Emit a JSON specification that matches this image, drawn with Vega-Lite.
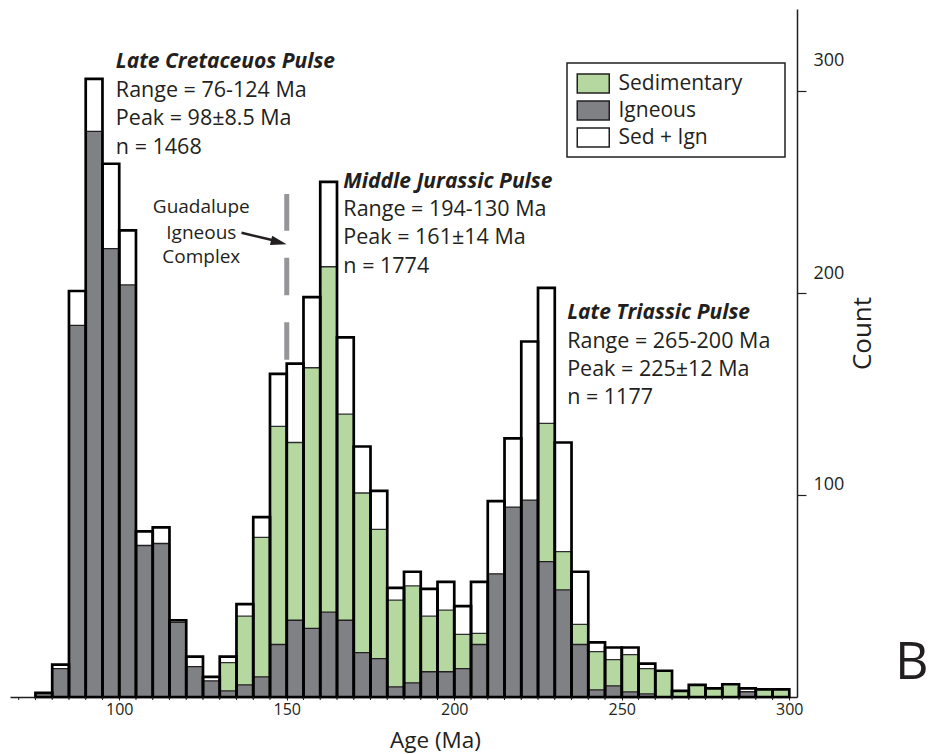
{
  "$schema": "https://vega.github.io/schema/vega-lite/v6.json",
  "width": 787,
  "height": 688,
  "autosize": {"type": "none"},
  "padding": {"left": 10, "top": 9, "right": 132, "bottom": 57},
  "background": "white",
  "config": {"view": {"stroke": null}, "font": "Open Sans", "axis": {"labelFont": "Open Sans", "titleFont": "Open Sans"}, "legend": {"labelFont": "Open Sans"}},
  "datasets": {
    "bins": [
      {"s": 75, "e": 80, "total": 2, "sed": 0, "ign": 2},
      {"s": 80, "e": 85, "total": 16, "sed": 2, "ign": 14},
      {"s": 85, "e": 90, "total": 201, "sed": 17, "ign": 184},
      {"s": 90, "e": 95, "total": 306, "sed": 26, "ign": 280},
      {"s": 95, "e": 100, "total": 264, "sed": 42, "ign": 222},
      {"s": 100, "e": 105, "total": 231, "sed": 27, "ign": 204},
      {"s": 105, "e": 110, "total": 82, "sed": 7, "ign": 75},
      {"s": 110, "e": 115, "total": 84, "sed": 8, "ign": 76},
      {"s": 115, "e": 120, "total": 38, "sed": 1, "ign": 37},
      {"s": 120, "e": 125, "total": 20, "sed": 5, "ign": 15},
      {"s": 125, "e": 130, "total": 10, "sed": 2, "ign": 8},
      {"s": 130, "e": 135, "total": 20, "sed": 17, "ign": 3},
      {"s": 135, "e": 140, "total": 46, "sed": 40, "ign": 6},
      {"s": 140, "e": 145, "total": 89, "sed": 79, "ign": 10},
      {"s": 145, "e": 150, "total": 160, "sed": 134, "ign": 26},
      {"s": 150, "e": 155, "total": 165, "sed": 126, "ign": 38},
      {"s": 155, "e": 160, "total": 198, "sed": 163, "ign": 34},
      {"s": 160, "e": 165, "total": 255, "sed": 213, "ign": 42},
      {"s": 165, "e": 170, "total": 178, "sed": 140, "ign": 38},
      {"s": 170, "e": 175, "total": 124, "sed": 101, "ign": 22},
      {"s": 175, "e": 180, "total": 102, "sed": 83, "ign": 19},
      {"s": 180, "e": 185, "total": 54, "sed": 48, "ign": 5},
      {"s": 185, "e": 190, "total": 62, "sed": 55, "ign": 7},
      {"s": 190, "e": 195, "total": 53.5, "sed": 40, "ign": 12.5},
      {"s": 195, "e": 200, "total": 57, "sed": 43, "ign": 12.5},
      {"s": 200, "e": 205, "total": 45, "sed": 31, "ign": 14},
      {"s": 205, "e": 210, "total": 57, "sed": 31.5, "ign": 26},
      {"s": 210, "e": 215, "total": 97, "sed": 36, "ign": 61},
      {"s": 215, "e": 220, "total": 128, "sed": 34, "ign": 94},
      {"s": 220, "e": 225, "total": 176, "sed": 79, "ign": 97.5},
      {"s": 225, "e": 230, "total": 202.5, "sed": 135.5, "ign": 67},
      {"s": 230, "e": 235, "total": 126, "sed": 72, "ign": 53},
      {"s": 235, "e": 240, "total": 62, "sed": 36, "ign": 26},
      {"s": 240, "e": 245, "total": 27, "sed": 22.5, "ign": 3.5},
      {"s": 245, "e": 250, "total": 24.5, "sed": 18.5, "ign": 5.5},
      {"s": 250, "e": 255, "total": 24.5, "sed": 21, "ign": 2.5},
      {"s": 255, "e": 260, "total": 16.5, "sed": 14, "ign": 1.5},
      {"s": 260, "e": 265, "total": 13, "sed": 13, "ign": 0},
      {"s": 265, "e": 270, "total": 3, "sed": 3, "ign": 0},
      {"s": 270, "e": 275, "total": 6, "sed": 6, "ign": 0},
      {"s": 275, "e": 280, "total": 4.3, "sed": 4.3, "ign": 0},
      {"s": 280, "e": 285, "total": 6.3, "sed": 6.3, "ign": 0},
      {"s": 285, "e": 290, "total": 4.3, "sed": 1.7, "ign": 2.6},
      {"s": 290, "e": 295, "total": 3.8, "sed": 3.8, "ign": 0},
      {"s": 295, "e": 300, "total": 3.8, "sed": 3.8, "ign": 0}
    ],
    "minorticks": [
      {"x": 70}, {"x": 75}, {"x": 80}, {"x": 85}, {"x": 90}, {"x": 95},
      {"x": 105}, {"x": 110}, {"x": 115}, {"x": 120}, {"x": 125}, {"x": 130}, {"x": 135}, {"x": 140}, {"x": 145},
      {"x": 155}, {"x": 160}, {"x": 165}, {"x": 170}, {"x": 175}, {"x": 180}, {"x": 185}, {"x": 190}, {"x": 195},
      {"x": 205}, {"x": 210}, {"x": 215}, {"x": 220}, {"x": 225}, {"x": 230}, {"x": 235}, {"x": 240}, {"x": 245},
      {"x": 255}, {"x": 260}, {"x": 265}, {"x": 270}, {"x": 275}, {"x": 280}, {"x": 285}, {"x": 290}, {"x": 295}
    ],
    "titles": [
      {"x": 99.0, "y": 314.4, "t": "Late Cretaceuos Pulse"},
      {"x": 166.9, "y": 255.1, "t": "Middle Jurassic Pulse"},
      {"x": 233.7, "y": 190.0, "t": "Late Triassic Pulse"}
    ],
    "body": [
      {"x": 99.0, "y": 300.1, "t": "Range = 76-124 Ma"},
      {"x": 99.0, "y": 286.0, "t": "Peak = 98±8.5 Ma"},
      {"x": 99.0, "y": 271.6, "t": "n = 1468"},
      {"x": 166.9, "y": 241.1, "t": "Range = 194-130 Ma"},
      {"x": 166.9, "y": 227.1, "t": "Peak = 161±14 Ma"},
      {"x": 166.9, "y": 213.0, "t": "n = 1774"},
      {"x": 233.7, "y": 175.9, "t": "Range = 265-200 Ma"},
      {"x": 233.7, "y": 161.9, "t": "Peak = 225±12 Ma"},
      {"x": 233.7, "y": 147.9, "t": "n = 1177"}
    ],
    "guad": [
      {"x": 124.5, "y": 242.7, "t": "Guadalupe"},
      {"x": 124.5, "y": 229.5, "t": "Igneous"},
      {"x": 124.5, "y": 217.9, "t": "Complex"}
    ],
    "dash": [{"x": 150, "y": 167, "y2": 249}],
    "arrow": [{"x": 136.5, "y": 229.8, "x2": 145.6, "y2": 226.2}],
    "head": [{"x": 147.64, "y": 225.1}],
    "panel": [{"x": 336.6, "y": 16.8, "t": "B"}]
  },
  "layer": [
    {
      "data": {"name": "bins"},
      "mark": {"type": "bar", "strokeWidth": 0},
      "encoding": {
        "x": {"field": "s", "type": "quantitative", "scale": {"domain": [67.4, 302.3], "nice": false, "zero": false},
          "axis": {"values": [100, 150, 200, 250, 300], "title": "Age (Ma)", "grid": false, "tickSize": 3, "labelPadding": 1,
            "labelFontSize": 16, "labelFlush": false, "labelOverlap": false, "titleFontSize": 22.5, "titleFontWeight": "normal",
            "titleX": 425, "titleY": 50, "titleBaseline": "alphabetic", "titleAnchor": "middle", "titleAlign": "center",
            "domainColor": "#231f20", "domainWidth": 1.5, "tickColor": "#231f20", "tickWidth": 1, "labelColor": "#231f20", "titleColor": "#231f20"}},
        "x2": {"field": "e"},
        "y": {"field": "total", "type": "quantitative", "scale": {"domain": [0, 340.6], "nice": false},
          "axis": {"orient": "right", "values": [100, 200, 300], "title": "Count", "grid": false, "tickSize": 9, "labelPadding": 7,
            "labelAlign": "left", "labelBaseline": "middle", "labelFontSize": 18,
            "labelOffset": {"condition": [{"test": "datum.value == 300", "value": -31}, {"test": "datum.value == 200", "value": -20}], "value": -11},
            "titleFontSize": 26, "titleFontWeight": "normal", "titleAngle": 270, "titleX": 65, "titleY": 324, "titleAlign": "center", "titleBaseline": "middle",
            "domainColor": "#231f20", "domainWidth": 1.5, "tickColor": "#231f20", "tickWidth": 1.2, "labelColor": "#231f20", "titleColor": "#231f20"}},
        "y2": {"datum": 0},
        "fill": {"datum": "Sed + Ign", "type": "nominal",
          "scale": {"domain": ["Sedimentary", "Igneous", "Sed + Ign"], "range": ["#b5d8a0", "#808184", "#ffffff"]},
          "legend": {"title": ".", "titleOrient": "right", "titleAngle": 0, "titleOpacity": 0, "titleFontSize": 8, "titlePadding": 33,
            "orient": "none", "legendX": 557, "legendY": 54,
            "symbolType": "M-0.82,-0.76H1.74V0.76H-0.82Z", "symbolSize": 625, "symbolStrokeColor": "#231f20", "symbolStrokeWidth": 1.5, "symbolOpacity": 1,
            "labelFontSize": 21, "labelOffset": 17.5, "labelColor": "#231f20", "padding": 7, "rowPadding": 1,
            "strokeColor": "#231f20", "fillColor": "#ffffff",
            "encode": {"legend": {"update": {"strokeWidth": {"value": 1.5}}}, "symbols": {"update": {"stroke": {"value": "#231f20"}, "strokeWidth": {"value": 1.5}}}}}}
      }
    },
    {
      "data": {"name": "bins"},
      "mark": {"type": "bar", "stroke": "#2e2e2e", "strokeWidth": 1.3},
      "encoding": {
        "x": {"field": "s", "type": "quantitative", "title": "Age (Ma)"},
        "x2": {"field": "e"},
        "y": {"field": "sed", "type": "quantitative", "title": "Count"},
        "y2": {"datum": 0},
        "fill": {"datum": "Sedimentary", "type": "nominal"}
      }
    },
    {
      "data": {"name": "bins"},
      "mark": {"type": "bar", "stroke": "#231f20", "strokeWidth": 1.3},
      "encoding": {
        "x": {"field": "s", "type": "quantitative", "title": "Age (Ma)"},
        "x2": {"field": "e"},
        "y": {"field": "ign", "type": "quantitative", "title": "Count"},
        "y2": {"datum": 0},
        "fill": {"datum": "Igneous", "type": "nominal"}
      }
    },
    {
      "data": {"name": "bins"},
      "mark": {"type": "bar", "fill": "white", "fillOpacity": 0, "stroke": "#000000", "strokeWidth": 2.7},
      "encoding": {
        "x": {"field": "s", "type": "quantitative", "title": "Age (Ma)"},
        "x2": {"field": "e"},
        "y": {"field": "total", "type": "quantitative", "title": "Count"},
        "y2": {"datum": 0}
      }
    },
    {
      "data": {"name": "minorticks"},
      "mark": {"type": "rule", "stroke": "#231f20", "strokeWidth": 1},
      "encoding": {
        "x": {"field": "x", "type": "quantitative", "title": "Age (Ma)"},
        "y": {"datum": 0, "type": "quantitative", "title": "Count"},
        "y2": {"datum": -1.5}
      }
    },
    {
      "data": {"name": "dash"},
      "mark": {"type": "rule", "stroke": "#939598", "strokeWidth": 5, "strokeDash": [37.5, 27]},
      "encoding": {
        "x": {"field": "x", "type": "quantitative", "title": "Age (Ma)"},
        "y": {"field": "y", "type": "quantitative", "title": "Count"},
        "y2": {"field": "y2"}
      }
    },
    {
      "data": {"name": "arrow"},
      "mark": {"type": "rule", "stroke": "#231f20", "strokeWidth": 2.5},
      "encoding": {
        "x": {"field": "x", "type": "quantitative", "title": "Age (Ma)"},
        "y": {"field": "y", "type": "quantitative", "title": "Count"},
        "x2": {"field": "x2"},
        "y2": {"field": "y2"}
      }
    },
    {
      "data": {"name": "head"},
      "mark": {"type": "point", "shape": "M1,0L-1,-0.6L-1,0.6Z", "size": 256, "angle": 13.4, "filled": true, "fill": "#231f20", "opacity": 1, "strokeWidth": 0},
      "encoding": {
        "x": {"field": "x", "type": "quantitative", "title": "Age (Ma)"},
        "y": {"field": "y", "type": "quantitative", "title": "Count"}
      }
    },
    {
      "data": {"name": "titles"},
      "mark": {"type": "text", "align": "left", "baseline": "middle", "fontSize": 21, "fontWeight": "bold", "fontStyle": "italic", "color": "#231f20"},
      "encoding": {
        "x": {"field": "x", "type": "quantitative", "title": "Age (Ma)"},
        "y": {"field": "y", "type": "quantitative", "title": "Count"},
        "text": {"field": "t"}
      }
    },
    {
      "data": {"name": "body"},
      "mark": {"type": "text", "align": "left", "baseline": "middle", "fontSize": 21.5, "color": "#231f20"},
      "encoding": {
        "x": {"field": "x", "type": "quantitative", "title": "Age (Ma)"},
        "y": {"field": "y", "type": "quantitative", "title": "Count"},
        "text": {"field": "t"}
      }
    },
    {
      "data": {"name": "guad"},
      "mark": {"type": "text", "align": "center", "baseline": "middle", "fontSize": 19, "color": "#231f20"},
      "encoding": {
        "x": {"field": "x", "type": "quantitative", "title": "Age (Ma)"},
        "y": {"field": "y", "type": "quantitative", "title": "Count"},
        "text": {"field": "t"}
      }
    },
    {
      "data": {"name": "panel"},
      "mark": {"type": "text", "align": "center", "baseline": "middle", "fontSize": 52, "color": "#231f20"},
      "encoding": {
        "x": {"field": "x", "type": "quantitative", "title": "Age (Ma)"},
        "y": {"field": "y", "type": "quantitative", "title": "Count"},
        "text": {"field": "t"}
      }
    }
  ]
}
